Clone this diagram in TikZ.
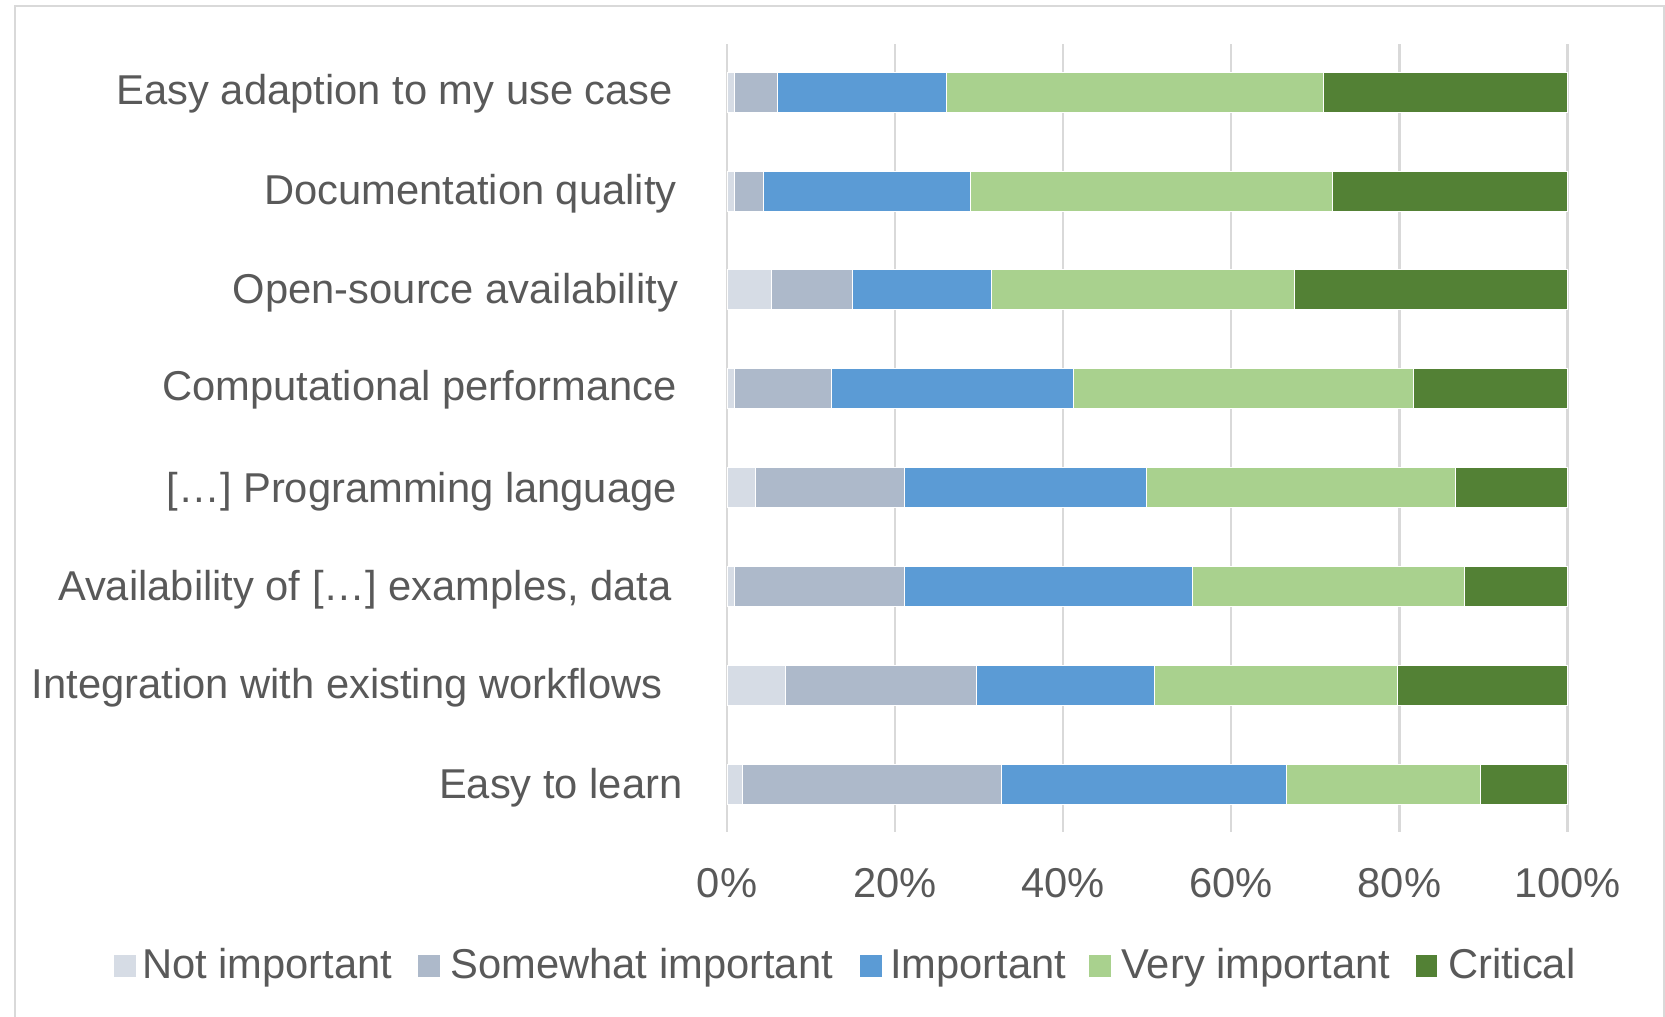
\documentclass[tikz,border=0pt]{standalone}
\usepackage{fontspec}
\setmainfont{Liberation Sans}
\definecolor{cNot}{HTML}{D6DCE5}
\definecolor{cSome}{HTML}{ADB9CA}
\definecolor{cImp}{HTML}{5B9BD5}
\definecolor{cVery}{HTML}{A9D18E}
\definecolor{cCrit}{HTML}{538135}
\definecolor{cText}{HTML}{595959}
\definecolor{cGrid}{HTML}{D9D9D9}
\begin{document}
\begin{tikzpicture}[x=1pt,y=-1pt,
  lbl/.style={font=\fontsize{41.7}{50}\selectfont, text=cText, inner sep=0pt, outer sep=0pt},
  gridline/.style={draw=cGrid, line width=2.2pt},
  seg/.style={draw=white, line width=0.6pt},
  sq/.style={minimum size=21.5pt, inner sep=0pt, outer sep=0pt, draw=none}]

\useasboundingbox (0,0) rectangle (1665,1017);
\fill[white] (0,0) rectangle (1665,1017);
\draw[cGrid, line width=2pt] (15,1020) -- (15,6) -- (1664,6) -- (1664,1020);

% gridlines
\foreach \k in {0,...,5}
  \draw[gridline] ({727+168.1*\k},44) -- ({727+168.1*\k},832);

% bars
\foreach \i/\a/\b/\c/\d in {0/0.83/5.95/26.1/71.0, 1/0.83/4.36/29.0/72.0, 2/5.3/14.95/31.5/67.5, 3/0.83/12.4/41.2/81.6, 4/3.37/21.1/49.9/86.7, 5/0.83/21.1/55.3/87.7, 6/6.9/29.7/50.8/79.7, 7/1.78/32.6/66.5/89.6} {
  \pgfmathsetmacro\yt{72+98.85*\i}
  \pgfmathsetmacro\yb{\yt+40}
  \pgfmathsetmacro\xa{727+8.405*\a}
  \pgfmathsetmacro\xb{727+8.405*\b}
  \pgfmathsetmacro\xc{727+8.405*\c}
  \pgfmathsetmacro\xd{727+8.405*\d}
  \fill[cNot] (727,\yt) rectangle (\xa,\yb);
  \fill[cSome] (\xa,\yt) rectangle (\xb,\yb);
  \fill[cImp] (\xb,\yt) rectangle (\xc,\yb);
  \fill[cVery] (\xc,\yt) rectangle (\xd,\yb);
  \fill[cCrit] (\xd,\yt) rectangle (1567.5,\yb);
  \draw[seg] (727,\yt) rectangle (1567.5,\yb);
  \draw[seg] (\xa,\yt) -- (\xa,\yb) (\xb,\yt) -- (\xb,\yb) (\xc,\yt) -- (\xc,\yb) (\xd,\yt) -- (\xd,\yb);
}

% category labels
\node[lbl, anchor=base east] (c1) at (673,104) {Easy adaption to my use case};
\node[lbl, anchor=base east] (c2) at (676.6,204) {Documentation quality};
\node[lbl, anchor=base east] (c3) at (678,303) {Open-source availability};
\node[lbl, anchor=base east] (c4) at (676.7,400.5) {Computational performance};
\node[lbl, anchor=base east] (c5) at (676.7,502) {[…] Programming language};
\node[lbl, anchor=base east] (c6) at (671.5,600.5) {Availability of […] examples, data};
\node[lbl, anchor=base east] (c7) at (662.3,698) {Integration with existing workflows};
\node[lbl, anchor=base east] (c8) at (682.4,798) {Easy to learn};

% tick labels
\node[lbl, anchor=base] (t0) at (727,897) {0\%};
\node[lbl, anchor=base] (t20) at (895.1,897) {20\%};
\node[lbl, anchor=base] (t40) at (1063.2,897) {40\%};
\node[lbl, anchor=base] (t60) at (1231.3,897) {60\%};
\node[lbl, anchor=base] (t80) at (1399.4,897) {80\%};
\node[lbl, anchor=base] (t100) at (1567.5,897) {100\%};

% legend
\node[sq, fill=cNot] (k1) at (125,966) {};
\node[sq, fill=cSome] (k2) at (428.8,966) {};
\node[sq, fill=cImp] (k3) at (871.2,966) {};
\node[sq, fill=cVery] (k4) at (1099.8,966) {};
\node[sq, fill=cCrit] (k5) at (1426.3,966) {};
\node[lbl, anchor=base west] (l1) at (142,978) {Not important};
\node[lbl, anchor=base west] (l2) at (450.5,978) {Somewhat important};
\node[lbl, anchor=base west] (l3) at (890,978) {Important};
\node[lbl, anchor=base west] (l4) at (1121.4,978) {Very important};
\node[lbl, anchor=base west] (l5) at (1448,978) {Critical};
\end{tikzpicture}
\end{document}
